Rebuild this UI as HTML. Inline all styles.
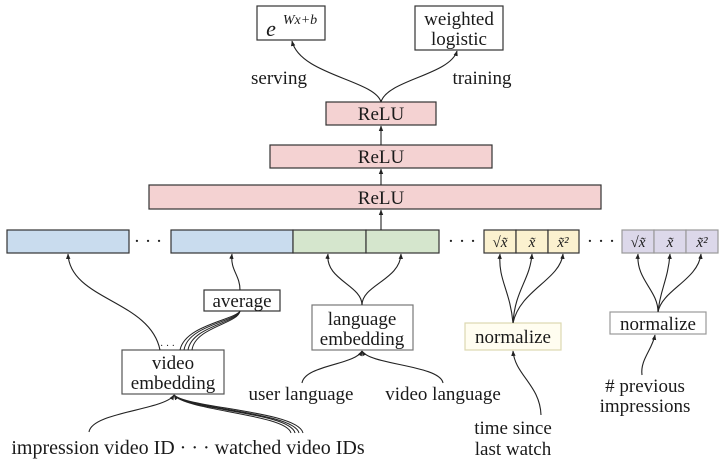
<!DOCTYPE html>
<html><head><meta charset="utf-8"><style>
html,body{margin:0;padding:0;background:#fff;}
svg{display:block;}
text{font-family:"Liberation Serif",serif;fill:#1a1a1a;}
</style></head><body>
<svg width="720" height="461" viewBox="0 0 720 461" xmlns="http://www.w3.org/2000/svg">
<defs>
<marker id="a" viewBox="0 0 10 10" refX="9" refY="5" markerWidth="5" markerHeight="5" orient="auto"><path d="M0,1 L10,5 L0,9 z" fill="#222"/></marker>
</defs>
<g stroke="#333" stroke-width="1.2">
<rect x="257" y="6" width="68" height="34" fill="#fff"/>
<rect x="415" y="6" width="88" height="44" fill="#fff"/>
<rect x="326" y="102" width="110" height="23" fill="#f4d2d2"/>
<rect x="270" y="145" width="222" height="23" fill="#f4d2d2"/>
<rect x="149" y="185" width="452" height="24" fill="#f4d2d2"/>
<rect x="7" y="230" width="122" height="23" fill="#c9dcee"/>
<rect x="171" y="230" width="122" height="23" fill="#c9dcee"/>
<rect x="293" y="230" width="73" height="23" fill="#d5e6cd"/>
<rect x="366" y="230" width="73" height="23" fill="#d5e6cd"/>
<rect x="484" y="230" width="32" height="23" fill="#fbf1cf"/>
<rect x="516" y="230" width="32" height="23" fill="#fbf1cf"/>
<rect x="548" y="230" width="31" height="23" fill="#fbf1cf"/>
<g stroke="#999"><rect x="622" y="230" width="32" height="23" fill="#dcd8ea"/>
<rect x="654" y="230" width="32" height="23" fill="#dcd8ea"/>
<rect x="686" y="230" width="32" height="23" fill="#dcd8ea"/>
<rect x="610" y="312" width="96" height="22" fill="#fff"/></g>
<rect x="204" y="290" width="76" height="21" fill="#fff"/>
<rect x="312" y="305" width="101" height="45" fill="#fff" stroke="#777"/>
<rect x="465" y="323" width="96" height="27" fill="#fffdf0" stroke="#ddd8b0"/>
<rect x="122" y="350" width="102" height="44" fill="#fff" stroke="#555"/>
</g>
<g fill="none" stroke="#222" stroke-width="1.1" marker-end="url(#a)">
<path d="M381,230 L381,210"/><path d="M381,185 L381,169"/><path d="M381,145 L381,126"/>
<path d="M381,102 C375,80 300,75 292,41"/>
<path d="M381,102 C387,80 450,75 457,51"/>
<path d="M160,350 C150,300 70,300 68,254"/>
<path d="M240,290 C240,275 230,270 232,254"/>
<path d="M362,305 C362,285 325,280 328,254"/>
<path d="M362,305 C362,285 400,280 401,254"/>
<path d="M513,323 C510,290 498,280 500,254"/>
<path d="M513,323 C515,290 530,280 532,254"/>
<path d="M513,323 C520,290 560,280 563,254"/>
<path d="M658,312 C658,290 636,280 638,254"/>
<path d="M658,312 C660,290 668,280 670,254"/>
<path d="M658,312 C662,290 698,280 701,254"/>
<path d="M302,383 C305,365 355,365 362,351"/>
<path d="M443,383 C440,365 370,365 362,351"/>
<path d="M541,415 C540,385 515,375 513,351"/>
<path d="M642,375 C640,360 652,350 655,335"/>
<path d="M89,432 C92,412 165,410 174,395"/>
<path d="M295,433 C290,412 185,410 174,395"/>
</g>
<g fill="none" stroke="#222" stroke-width="1">
<path d="M180,350 C185,325 235,320 240,311"/><path d="M184,350 C188,325 236,322 240,311"/><path d="M188,350 C192,326 237,323 240,311"/><path d="M192,350 C195,327 238,324 240,311"/>
<path d="M291,433 C286,414 186,411 174,395"/><path d="M299,433 C294,412 186,409 174,395"/><path d="M303,433 C298,411 187,408 174,395"/>
</g>
<text x="160" y="349" font-size="10" fill="#444">· · ·</text>
<g font-size="19" text-anchor="middle">
<text x="381" y="120">ReLU</text><text x="381" y="163">ReLU</text><text x="381" y="204">ReLU</text>
<text x="459" y="25">weighted</text><text x="459" y="45">logistic</text>
<text x="279" y="84">serving</text><text x="482" y="84">training</text>
<text x="242" y="307">average</text>
<text x="362" y="325">language</text><text x="362" y="345">embedding</text>
<text x="513" y="343">normalize</text><text x="658" y="330">normalize</text>
<text x="173" y="369">video</text><text x="173" y="389">embedding</text>
<text x="301" y="400">user language</text><text x="443" y="400">video language</text>
<text x="645" y="392"># previous</text><text x="645" y="412">impressions</text>
<text x="513" y="434">time since</text><text x="513" y="455">last watch</text>
<text x="188" y="454" font-size="20">impression video ID · · · watched video IDs</text>
<text x="148" y="247">· · ·</text><text x="462" y="247">· · ·</text><text x="601" y="247">· · ·</text>
</g>
<g font-style="italic" text-anchor="middle">
<text x="271" y="36" font-size="22">e</text><text x="300" y="24" font-size="14">Wx+b</text>
<text x="500" y="247" font-size="15">√x̃</text><text x="532" y="247" font-size="15">x̃</text><text x="563" y="247" font-size="15">x̃²</text>
<text x="638" y="247" font-size="15" fill="#666">√x̃</text><text x="670" y="247" font-size="15" fill="#666">x̃</text><text x="702" y="247" font-size="15" fill="#666">x̃²</text>
</g>
</svg>
</body></html>
